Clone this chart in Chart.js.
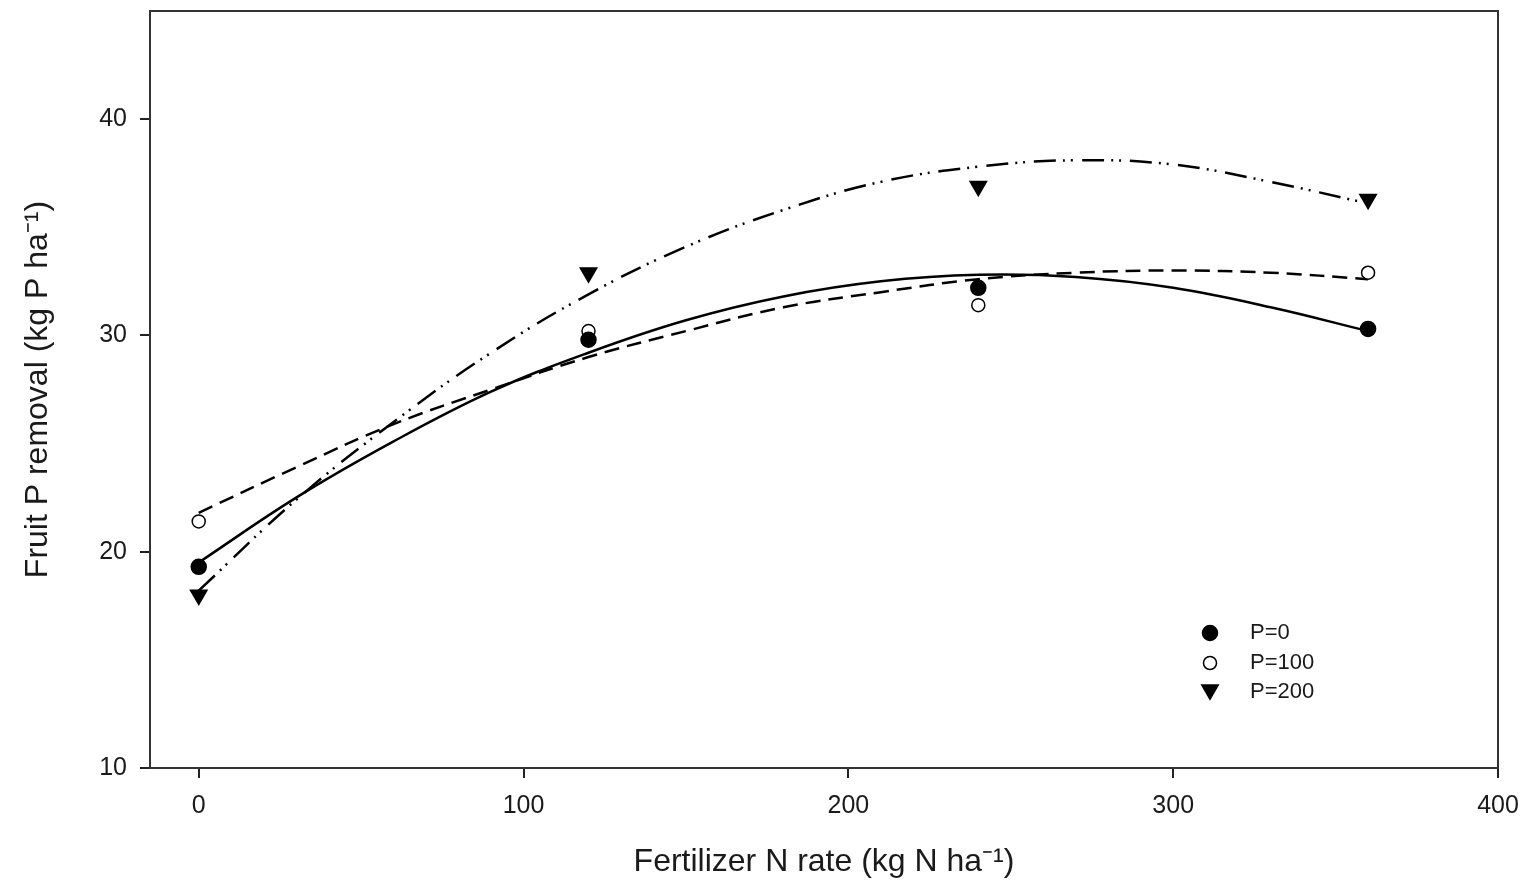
<!DOCTYPE html>
<html><head><meta charset="utf-8">
<script src="https://cdn.jsdelivr.net/npm/chart.js@4.4.1/dist/chart.umd.min.js"></script>
<style>html,body{margin:0;padding:0;background:#fff}canvas{display:block}</style>
</head><body>
<canvas id="c" width="1528" height="884"></canvas>
<script>
// ---- data ----
const nRates = [0, 120, 240, 360];
const p0 = [19.3, 29.8, 32.2, 30.3];
const p100 = [21.4, 30.2, 31.4, 32.9];
const p200 = [18.0, 32.9, 36.9, 36.3];
// fitted curves, read at regular N rates
const fitX = [0, 30, 60, 90, 120, 150, 180, 210, 240, 270, 300, 330, 360];
const fitP0 = [19.5, 22.5, 25.1, 27.4, 29.2, 30.7, 31.8, 32.5, 32.8, 32.7, 32.2, 31.3, 30.2];
const fitP100 = [21.8, 23.9, 25.9, 27.5, 29.0, 30.2, 31.3, 32.0, 32.6, 32.9, 33.0, 32.9, 32.6];
const fitP200 = [18.2, 22.4, 26.0, 29.2, 31.9, 34.1, 35.8, 37.1, 37.8, 38.1, 37.9, 37.1, 36.1];
const seriesLabels = ['P=0', 'P=100', 'P=200'];
const xTicks = [0, 100, 200, 300, 400];
const yTicks = [10, 20, 30, 40];
const xTitle = 'Fertilizer N rate (kg N ha\u207B\u00B9)';
const yTitle = 'Fruit P removal (kg P ha\u207B\u00B9)';

const FONT = "'Liberation Sans', Arial, sans-serif";
const INK = '#1a1a1a';
const pts = (xs, ys) => xs.map((x, i) => ({x: x, y: ys[i]}));

const markerStyles = [
  {pointStyle: 'circle', radius: 7.5, bg: '#000', border: '#000', rotation: 0},
  {pointStyle: 'circle', radius: 6.5, bg: '#fff', border: '#000', rotation: 0},
  {pointStyle: 'triangle', radius: 9.5, bg: '#000', border: '#000', rotation: 180}
];
const lineDashes = [[], [15, 8], [22, 7, 2, 6, 2, 9]];
const seriesVals = [p0, p100, p200];
const fitVals = [fitP0, fitP100, fitP200];

const datasets = [];
seriesVals.forEach((vals, i) => {
  const m = markerStyles[i];
  datasets.push({
    label: seriesLabels[i], data: pts(nRates, vals), showLine: false, order: 0,
    pointStyle: m.pointStyle, pointRadius: m.radius, pointRotation: m.rotation,
    pointBackgroundColor: m.bg, pointBorderColor: m.border, pointBorderWidth: 1.5
  });
});
fitVals.forEach((vals, i) => {
  datasets.push({
    label: seriesLabels[i] + ' fit', data: pts(fitX, vals), showLine: true, order: 1,
    pointRadius: 0, borderColor: '#000', borderWidth: 2.5, borderDash: lineDashes[i],
    tension: 0.4, fill: false
  });
});

const framePlugin = {
  id: 'frame',
  afterDraw(chart) {
    const {ctx, chartArea: a} = chart;
    ctx.save();
    ctx.strokeStyle = '#333'; ctx.lineWidth = 2;
    ctx.beginPath();
    ctx.moveTo(a.left, a.top); ctx.lineTo(a.right, a.top); ctx.lineTo(a.right, a.bottom);
    ctx.stroke();
    ctx.restore();
  }
};

const legendPlugin = {
  id: 'innerLegend',
  afterDraw(chart) {
    const {ctx, chartArea: a} = chart;
    const mx = a.right - 288, tx = a.right - 248;
    const ys = [a.bottom - 135, a.bottom - 105, a.bottom - 76];
    ctx.save();
    ctx.font = "22px " + FONT;
    ctx.fillStyle = INK; ctx.textBaseline = 'middle'; ctx.textAlign = 'left';
    seriesLabels.forEach((lab, i) => {
      const m = markerStyles[i], y = ys[i];
      ctx.beginPath();
      if (m.pointStyle === 'circle') {
        ctx.arc(mx, y, m.radius, 0, Math.PI * 2);
      } else {
        const r = m.radius, cy = y - r / 4;
        ctx.moveTo(mx - r * 0.866, cy - r / 2);
        ctx.lineTo(mx + r * 0.866, cy - r / 2);
        ctx.lineTo(mx, cy + r);
        ctx.closePath();
      }
      ctx.fillStyle = m.bg; ctx.fill();
      ctx.lineWidth = 1.5; ctx.strokeStyle = m.border; ctx.stroke();
      ctx.fillStyle = INK;
      ctx.fillText(lab, tx, y);
    });
    ctx.restore();
  }
};

const zeroPad = s => { s.paddingTop = 0; s.paddingBottom = 0; s.paddingLeft = 0; s.paddingRight = 0; };

new Chart(document.getElementById('c'), {
  type: 'scatter',
  data: {datasets: datasets},
  options: {
    responsive: false, animation: false, devicePixelRatio: 1,
    layout: {padding: {top: 9, right: 30, left: 0, bottom: 0}},
    plugins: {legend: {display: false}, tooltip: {enabled: false}},
    scales: {
      x: {
        type: 'linear', min: -15, max: 400,
        afterBuildTicks: s => { s.ticks = xTicks.map(v => ({value: v})); },
        afterFit: s => { s.height = 116; zeroPad(s); },
        grid: {drawOnChartArea: false, drawTicks: true, tickLength: 10, color: '#222', lineWidth: 2},
        border: {display: true, color: '#333', width: 2},
        ticks: {font: {family: FONT, size: 25}, color: INK, padding: 13, maxRotation: 0, autoSkip: false},
        title: {display: true, text: xTitle, color: INK, font: {family: FONT, size: 32}, padding: {top: 0, bottom: 3}}
      },
      y: {
        type: 'linear', min: 10, max: 45,
        afterBuildTicks: s => { s.ticks = yTicks.map(v => ({value: v})); },
        afterFit: s => { s.width = 150; zeroPad(s); },
        grid: {drawOnChartArea: false, drawTicks: true, tickLength: 10, color: '#222', lineWidth: 2},
        border: {display: true, color: '#333', width: 2},
        ticks: {font: {family: FONT, size: 25}, color: INK, padding: 13, autoSkip: false},
        title: {display: true, text: yTitle, color: INK, font: {family: FONT, size: 32}, padding: {top: 19, bottom: 0}}
      }
    }
  },
  plugins: [framePlugin, legendPlugin]
});
</script>
</body></html>
